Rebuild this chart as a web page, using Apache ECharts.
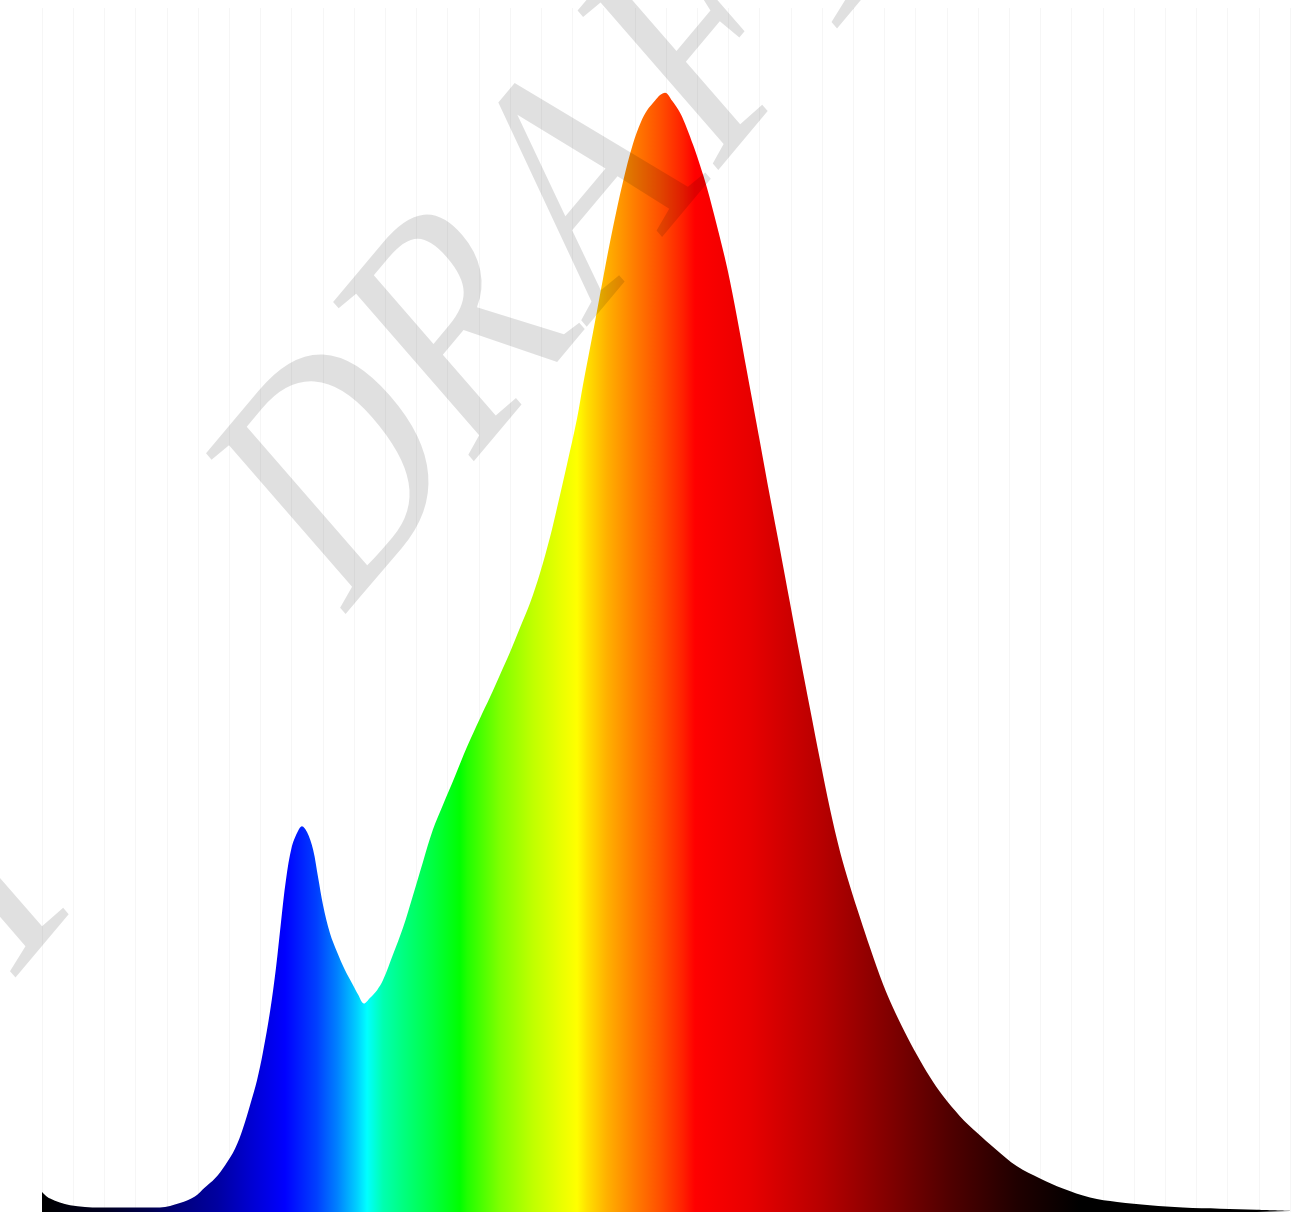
<!DOCTYPE html>
<html>
<head>
<meta charset="utf-8">
<script src="https://cdn.jsdelivr.net/npm/echarts@6/dist/echarts.min.js"></script>
<style>
html,body{margin:0;padding:0;background:#fff;}
#chart{width:1307px;height:1212px;}
</style>
</head>
<body>
<div id="chart"></div>
<script>
// Wavelength (nm) samples
var wavelengths = [
  380.0, 382.6, 389.0, 398.6, 408.2, 417.8, 424.2, 429.0, 432.2, 435.4,
  438.7, 441.9, 444.4, 446.7, 448.9, 450.8, 453.1, 455.0, 456.6, 458.2,
  460.1, 462.1, 463.3, 464.9, 466.9, 468.5, 470.1, 472.3, 474.6, 477.1,
  479.4, 481.3, 483.2, 485.1, 487.4, 489.3, 492.5, 495.7, 498.9, 502.1,
  505.3, 508.5, 512.4, 516.2, 520.4, 523.6, 526.8, 530.0, 533.2, 536.4,
  539.6, 542.8, 545.1, 548.3, 551.5, 553.4, 556.6, 559.8, 563.0, 566.2,
  569.4, 572.0, 573.9, 576.5, 578.1, 579.7, 581.9, 584.5, 586.7, 588.7,
  590.9, 593.1, 596.3, 599.6, 602.8, 606.0, 610.1, 613.3, 616.5, 619.7,
  622.9, 626.2, 629.4, 632.6, 635.8, 639.0, 642.2, 645.4, 649.6, 652.8,
  656.6, 660.4, 664.6, 668.8, 674.2, 679.7, 685.4, 692.5, 699.9, 707.2,
  715.9, 724.6, 735.1, 745.7, 757.6, 769.4, 780.0
];
// Relative spectral intensity
var intensity = [
  0.018, 0.012, 0.006, 0.004, 0.004, 0.004, 0.008, 0.014, 0.022, 0.030,
  0.042, 0.057, 0.075, 0.096, 0.118, 0.143, 0.180, 0.219, 0.260, 0.298,
  0.328, 0.342, 0.346, 0.341, 0.325, 0.300, 0.275, 0.250, 0.233, 0.217,
  0.205, 0.195, 0.187, 0.192, 0.199, 0.208, 0.231, 0.255, 0.284, 0.314,
  0.343, 0.365, 0.391, 0.417, 0.443, 0.462, 0.482, 0.502, 0.524, 0.546,
  0.573, 0.605, 0.632, 0.671, 0.712, 0.742, 0.789, 0.837, 0.883, 0.924,
  0.958, 0.978, 0.988, 0.997, 1.002, 1.004, 0.997, 0.986, 0.972, 0.957,
  0.939, 0.919, 0.885, 0.847, 0.802, 0.753, 0.691, 0.642, 0.595, 0.547,
  0.499, 0.451, 0.405, 0.361, 0.323, 0.292, 0.264, 0.237, 0.204, 0.183,
  0.161, 0.141, 0.121, 0.104, 0.086, 0.071, 0.057, 0.041, 0.030, 0.021,
  0.013, 0.009, 0.006, 0.004, 0.003, 0.002, 0.001
];
var watermarkText = 'DRAFT';

var X_MIN = 380, X_MAX = 780;

// spectrum colour stops (wavelength -> colour)
var stopNm = [380, 400, 415, 425.2, 436.1, 446.7, 457.9, 468.1, 474.6, 481.0, 484.2, 489.3, 495.7, 505.3, 514.0,
  516.3, 526.8, 537.4, 546.0, 551.5, 554.7, 561.1, 569.4, 578.1, 585.4, 589.3, 606.9, 629.4, 648.6, 671.0, 692.5, 712.7, 780];
var stopColor = ['#000000', '#000020', '#000050', '#000080', '#0000a0', '#0000d0', '#0000ff', '#0040ff', '#0080ff', '#00d0ff', '#00ffff', '#00ffb0', '#00ff80', '#00ff40', '#00ff00',
  '#20ff00', '#80ff00', '#c0ff00', '#e8ff00', '#ffff00', '#ffe000', '#ffb000', '#ff8000', '#ff5000', '#ff2000', '#ff0000', '#e80000', '#b80000', '#880000', '#500000', '#200000', '#000000', '#000000'];

var stops = stopNm.map(function (nm, i) {
  return { offset: (nm - X_MIN) / (X_MAX - X_MIN), color: stopColor[i] };
});

var seriesData = wavelengths.map(function (w, i) { return [w, intensity[i]]; });

var chart = echarts.init(document.getElementById('chart'), null, { renderer: 'canvas' });

var theta = 45.5 * Math.PI / 180;
var wmFont = '350px "Liberation Serif", "DejaVu Serif", serif';
var wmStyle = {
  text: watermarkText, font: wmFont, fill: 'rgba(0,0,0,0.12)',
  textAlign: 'left', textVerticalAlign: 'middle', align: 'left', verticalAlign: 'middle'
};

chart.setOption({
  animation: false,
  backgroundColor: '#ffffff',
  grid: { left: 42, right: 17, top: 8, bottom: 0, containLabel: false },
  xAxis: {
    type: 'value', min: X_MIN, max: X_MAX, interval: 10,
    axisLine: { show: false }, axisTick: { show: false }, axisLabel: { show: false },
    splitLine: { show: true, lineStyle: { color: '#f6f6f6', width: 1 } }
  },
  yAxis: {
    type: 'value', min: 0, max: 1.08,
    axisLine: { show: false }, axisTick: { show: false }, axisLabel: { show: false },
    splitLine: { show: false }
  },
  series: [{
    type: 'line',
    data: seriesData,
    smooth: 0.35,
    showSymbol: false,
    lineStyle: { width: 0, opacity: 0 },
    areaStyle: {
      opacity: 1,
      color: new echarts.graphic.LinearGradient(0, 0, 1, 0, stops)
    },
    z: 2
  }],
  graphic: [{
    type: 'group', x: 0, y: 0, scaleX: 0.854, z: 100, silent: true,
    children: [
      { type: 'text', z: 100, silent: true, x: 333.2, y: 555.6, rotation: theta, scaleX: 0.84, style: wmStyle },
      { type: 'text', z: 100, silent: true, x: -628.8, y: 1504.7, rotation: theta, scaleX: 0.84, style: wmStyle }
    ]
  }]
});
</script>
</body>
</html>
